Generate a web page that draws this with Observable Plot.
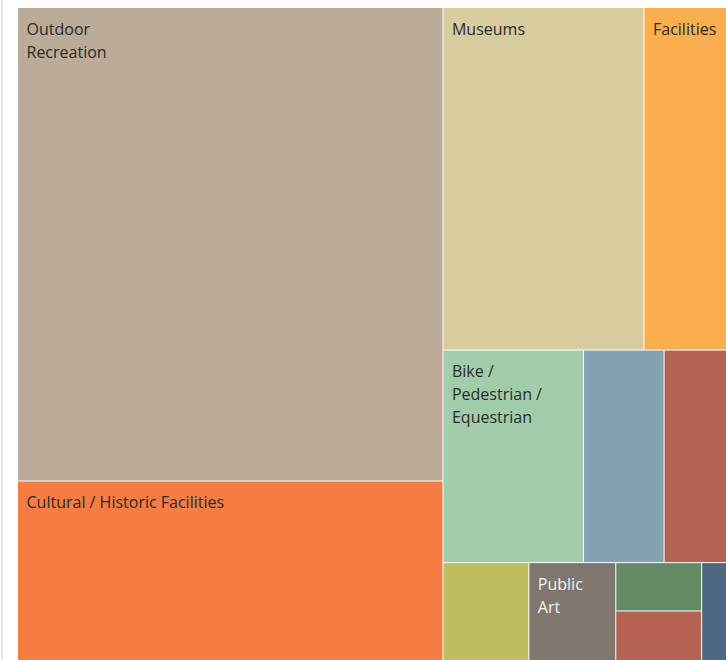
<!DOCTYPE html>
<html>
<head>
<meta charset="utf-8">
<script src="https://cdn.jsdelivr.net/npm/d3@7"></script>
<script src="https://cdn.jsdelivr.net/npm/@observablehq/plot@0.6"></script>
<style>
  html, body { margin: 0; padding: 0; background: #fff; }
  #wrap { position: relative; width: 726px; height: 660px; overflow: hidden; }
  #edge { position: absolute; left: 1px; top: 0; width: 2px; height: 660px; background: #e9e9e9; }
</style>
</head>
<body>
<div id="wrap"><div id="edge"></div></div>
<script>
// Treemap categories (unlabelled cells are too small for a label in the reference)
const categories = [
  "Outdoor Recreation", "Cultural / Historic Facilities",
  "Museums", "Facilities",
  "Bike / Pedestrian / Equestrian", "Category F", "Category G",
  "Category H", "Public Art", "Category J", "Category K", "Category L"
];
const labels = [
  "Outdoor\nRecreation", "Cultural / Historic Facilities",
  "Museums", "Facilities",
  "Bike /\nPedestrian /\nEquestrian", "", "",
  "", "Public\nArt", "", "", ""
];
const values = [198.9, 75.4, 68.0, 27.9, 29.5, 16.9, 13.1, 8.3, 8.4, 4.1, 4.2, 2.4];
const colors = [
  "#bbab98", "#f57c43", "#d8cc9f", "#fbae4e", "#a2cdaa", "#859fb3", "#b46353",
  "#c0bd5e", "#7f7670", "#648b66", "#b46353", "#4e6882"
];
const labelColors = ["#2a2a2a", "#2a2a2a", "#2a2a2a", "#2a2a2a", "#2a2a2a", "#2a2a2a", "#2a2a2a", "#2a2a2a", "#f4f4f4", "#2a2a2a", "#2a2a2a", "#2a2a2a"];
// grouping used by the slice-and-dice layout
const groupCol = ["A", "A", "B", "B", "B", "B", "B", "B", "B", "B", "B", "B"];
const groupRow = ["A1", "A2", "B1", "B1", "B2", "B2", "B2", "B3", "B3", "B3", "B3", "B3"];
const groupSub = ["a", "b", "c", "d", "e", "f", "g", "h", "i", "jk", "jk", "l"];

const W = 708, H = 652;
const rows = categories.map((c, i) => ({
  name: c, label: labels[i], value: values[i], color: colors[i], labelColor: labelColors[i],
  col: groupCol[i], row: groupRow[i], sub: groupSub[i]
}));
const grouped = d3.group(rows, d => d.col, d => d.row, d => d.sub);
const root = d3.hierarchy(grouped).sum(d => d.value || 0);
d3.treemap().tile(d3.treemapSliceDice).size([W, H]).paddingInner(1)(root);
const leaves = root.leaves().map(n => ({
  x0: n.x0, x1: n.x1, y0: n.y0, y1: n.y1, ...n.data
}));
const labeled = leaves.filter(d => d.label);

const textMarks = [0, 1, 2].map(i => Plot.text(
  labeled.filter(d => d.label.split("\n").length > i),
  {
    x: "x0", y: "y0",
    text: d => d.label.split("\n")[i],
    textAnchor: "start", lineAnchor: "top",
    dx: 8, dy: 15 + 23 * i,
    fill: "labelColor",
    fontSize: 16
  }
));

const chart = Plot.plot({
  width: 726, height: 660,
  marginLeft: 18, marginTop: 8, marginRight: 0, marginBottom: 0,
  style: { fontFamily: "'Open Sans', sans-serif", background: "transparent", overflow: "visible" },
  x: { domain: [0, W], range: [18, 726], axis: null },
  y: { domain: [0, H], range: [8, 660], axis: null },
  color: { type: "identity" },
  marks: [
    Plot.rect(leaves, { x1: "x0", x2: "x1", y1: "y0", y2: "y1", fill: "color" }),
    ...textMarks
  ]
});
chart.style.position = "absolute";
chart.style.left = "0";
chart.style.top = "0";
document.getElementById("wrap").appendChild(chart);
</script>
</body>
</html>
